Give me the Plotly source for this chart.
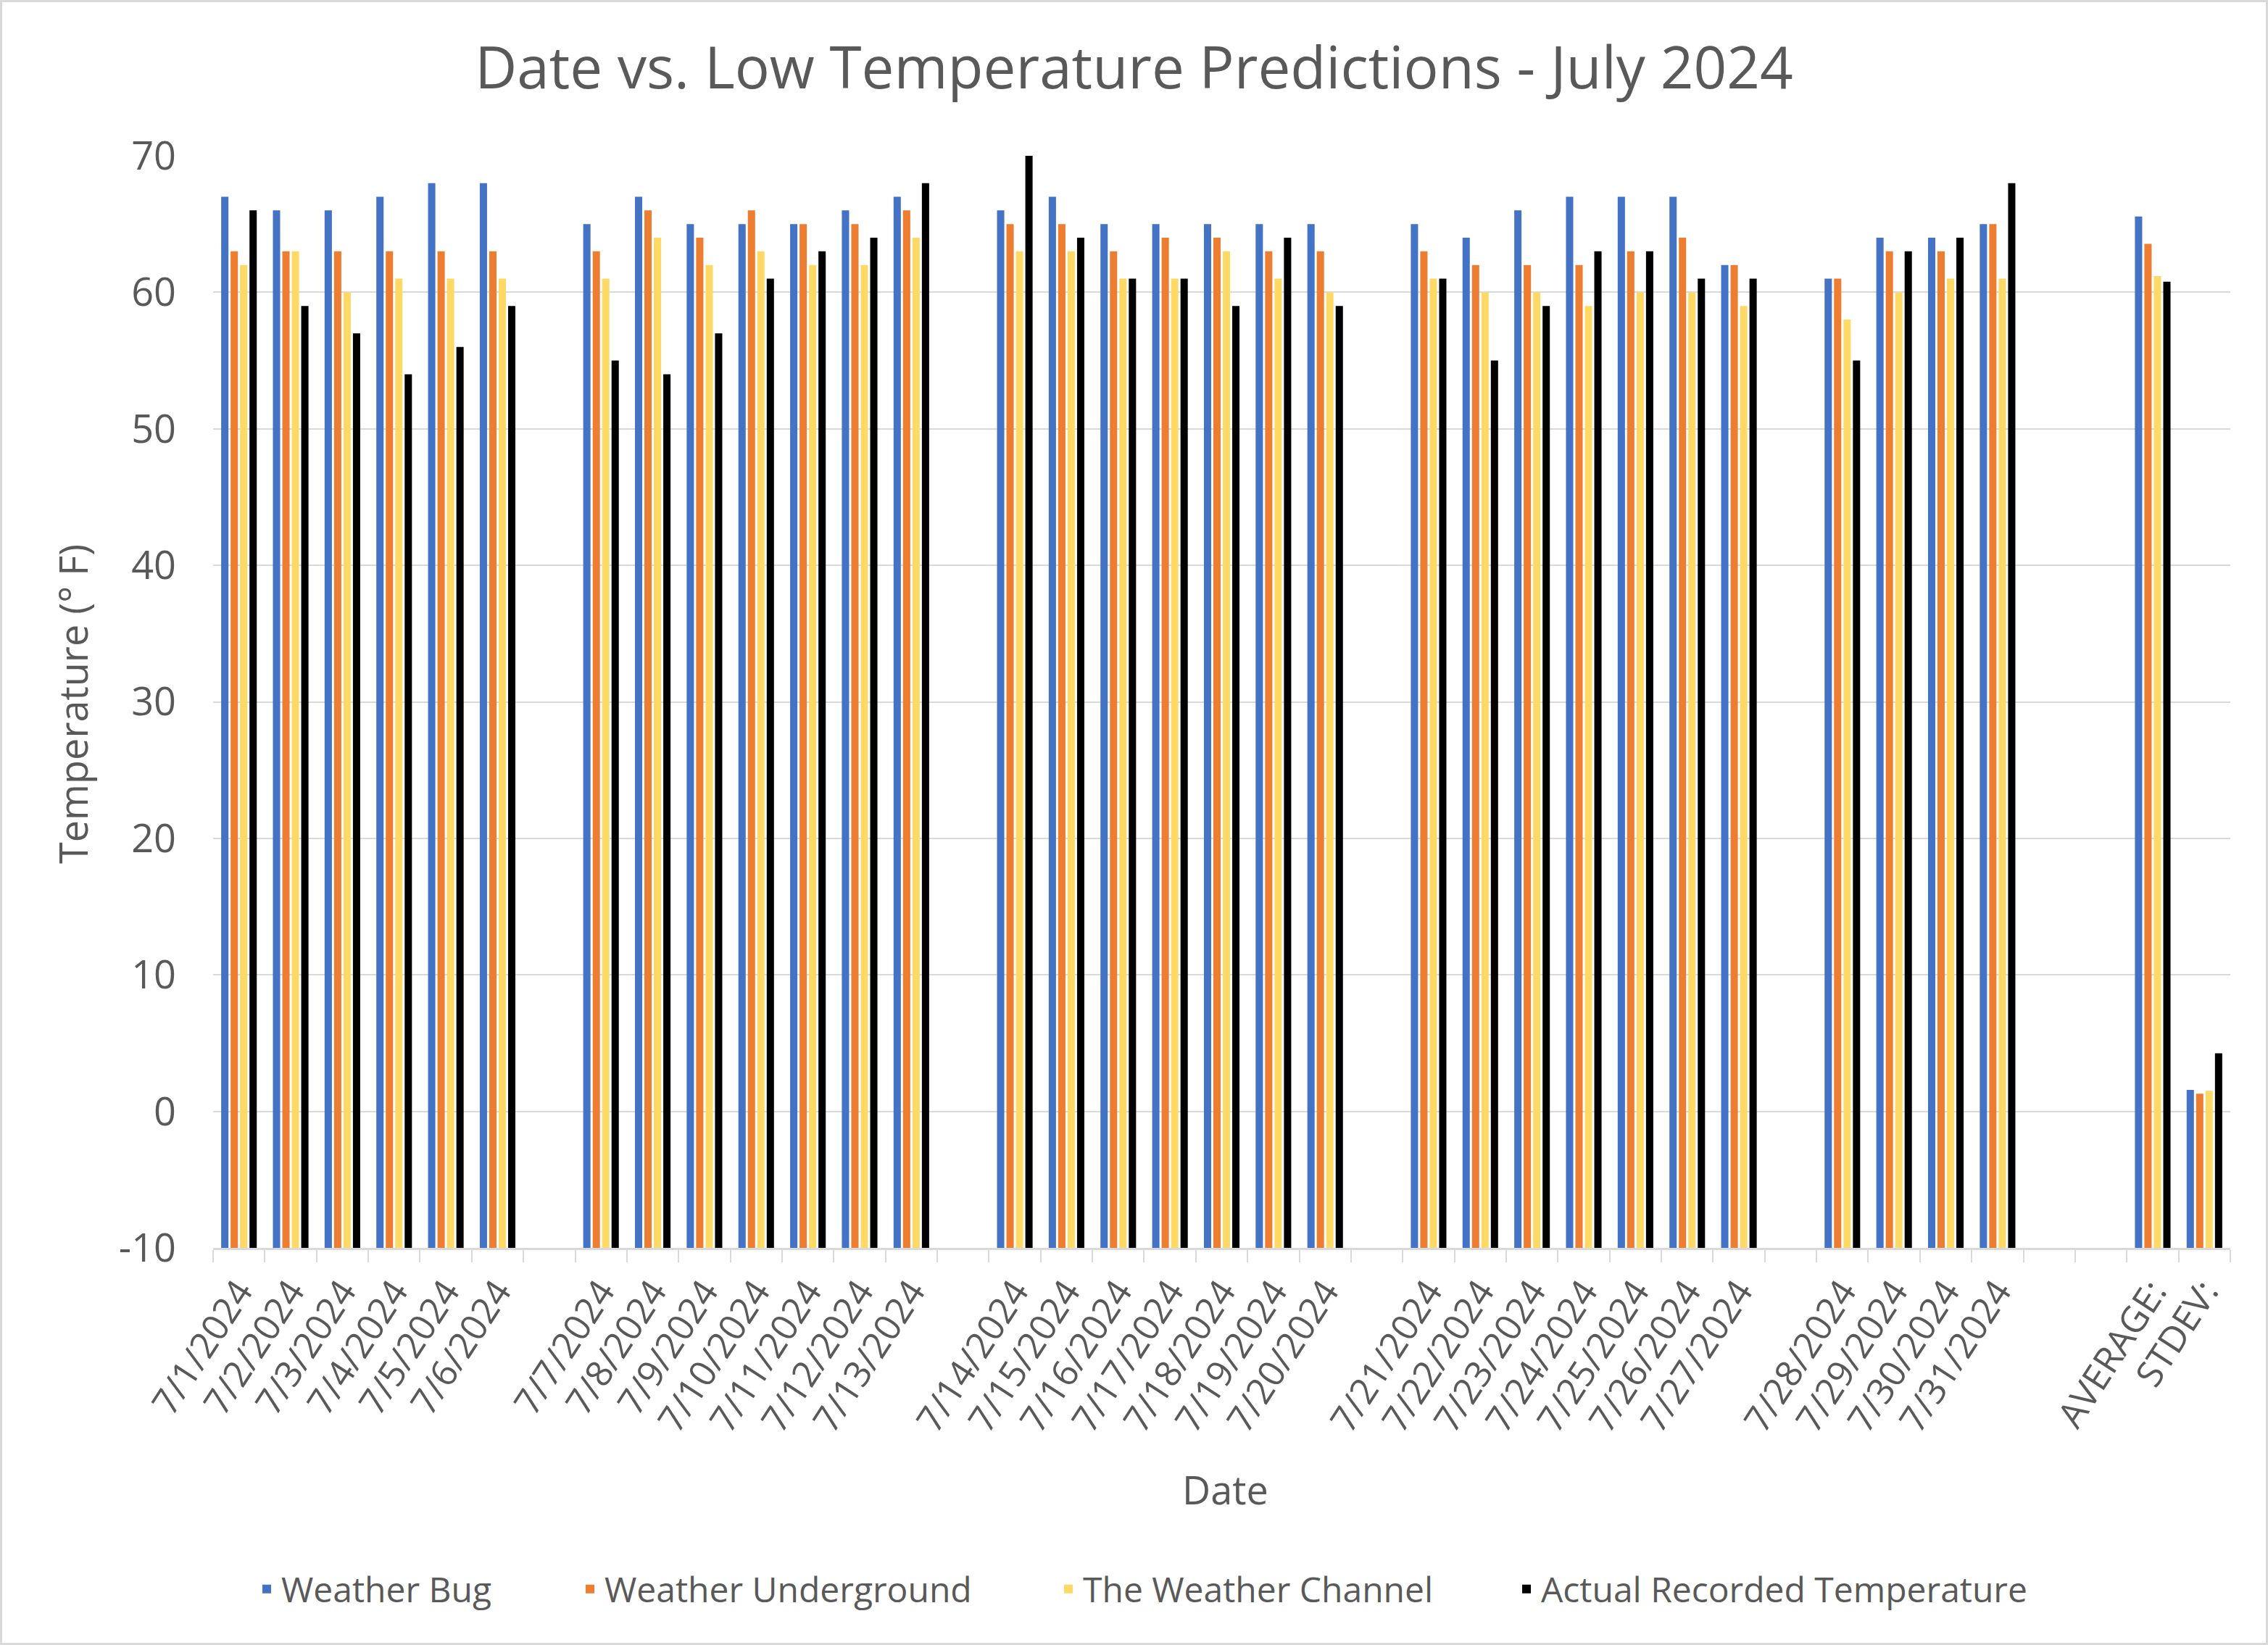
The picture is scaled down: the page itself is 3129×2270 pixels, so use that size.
import plotly.graph_objects as go

# ---------------- data ----------------
dates_w1 = ["7/1/2024", "7/2/2024", "7/3/2024", "7/4/2024", "7/5/2024", "7/6/2024"]
dates_w2 = ["7/7/2024", "7/8/2024", "7/9/2024", "7/10/2024", "7/11/2024", "7/12/2024", "7/13/2024"]
dates_w3 = ["7/14/2024", "7/15/2024", "7/16/2024", "7/17/2024", "7/18/2024", "7/19/2024", "7/20/2024"]
dates_w4 = ["7/21/2024", "7/22/2024", "7/23/2024", "7/24/2024", "7/25/2024", "7/26/2024", "7/27/2024"]
dates_w5 = ["7/28/2024", "7/29/2024", "7/30/2024", "7/31/2024"]
summary_labels = ["AVERAGE:", "STDEV:"]

weather_bug = [67, 66, 66, 67, 68, 68,
               65, 67, 65, 65, 65, 66, 67,
               66, 67, 65, 65, 65, 65, 65,
               65, 64, 66, 67, 67, 67, 62,
               61, 64, 64, 65]
weather_underground = [63, 63, 63, 63, 63, 63,
                       63, 66, 64, 66, 65, 65, 66,
                       65, 65, 63, 64, 64, 63, 63,
                       63, 62, 62, 62, 63, 64, 62,
                       61, 63, 63, 65]
weather_channel = [62, 63, 60, 61, 61, 61,
                   61, 64, 62, 63, 62, 62, 64,
                   63, 63, 61, 61, 63, 61, 60,
                   61, 60, 60, 59, 60, 60, 59,
                   58, 60, 61, 61]
actual_temp = [66, 59, 57, 54, 56, 59,
               55, 54, 57, 61, 63, 64, 68,
               70, 64, 61, 61, 59, 64, 59,
               61, 55, 59, 63, 63, 61, 61,
               55, 63, 64, 68]

# AVERAGE / STDEV values
summary_weather_bug = [65.55, 1.57]
summary_weather_underground = [63.55, 1.29]
summary_weather_channel = [61.19, 1.50]
summary_actual = [60.77, 4.25]

series_names = ["Weather Bug", "Weather Underground", "The Weather Channel",
                "Actual Recorded Temperature"]
y_ticks = [-10, 0, 10, 20, 30, 40, 50, 60, 70]
y_min, y_max = -10, 70

# ---------------- styling ----------------
colors = ["#4472C4", "#ED7D31", "#FFD966", "#000000"]
TEXT = "#595959"
GRID = "#D9D9D9"
FONT = "Open Sans"

W, H = 3129, 2270
ML, MR, MT, MB = 294, 52, 215, 548
PW, PH = W - ML - MR, H - MT - MB


def px_x(x):
    return (x - ML) / PW


def px_y(y):
    return (H - MB - y) / PH


# category order with blank spacer slots between weeks
weeks = [dates_w1, dates_w2, dates_w3, dates_w4, dates_w5]
gap_counts = [1, 1, 1, 1, 2]
cat_order, tick_text = [], []
gid = 0
for wk, g in zip(weeks, gap_counts):
    cat_order += wk
    tick_text += wk
    for _ in range(g):
        gid += 1
        cat_order.append(f"gap{gid}")
        tick_text.append("")
cat_order += summary_labels
tick_text += summary_labels

all_dates = [d for wk in weeks for d in wk]
x_vals = all_dates + summary_labels
series_vals = [
    weather_bug + summary_weather_bug,
    weather_underground + summary_weather_underground,
    weather_channel + summary_weather_channel,
    actual_temp + summary_actual,
]

fig = go.Figure()
legend_ids = ["legend", "legend2", "legend3", "legend4"]
for name, vals, col, lg in zip(series_names, series_vals, colors, legend_ids):
    # bars rise from the bottom of the value axis (-10), as in the original chart
    fig.add_trace(go.Bar(x=x_vals, y=[v - y_min for v in vals], base=y_min,
                         customdata=vals, hovertemplate="%{x}: %{customdata}<extra>" + name + "</extra>",
                         name=name, marker_color=col, marker_line_width=0, legend=lg))

legend_text_starts = [393, 839, 1499, 2131]
legend_common = dict(orientation="h", xref="container", yref="container",
                     xanchor="left", yanchor="middle", y=1 - 2193 / H,
                     font=dict(family=FONT, size=48, color=TEXT),
                     bgcolor="rgba(0,0,0,0)", borderwidth=0)
legend_layout = {}
for lg, xs in zip(legend_ids, legend_text_starts):
    legend_layout[lg] = dict(x=(xs - 45) / W, **legend_common)

fig.update_layout(
    width=W, height=H,
    margin=dict(l=ML, r=MR, t=MT, b=MB, autoexpand=False),
    paper_bgcolor="white", plot_bgcolor="white",
    font=dict(family=FONT, color=TEXT),
    title=dict(text="Date vs. Low Temperature Predictions - July 2024",
               font=dict(family=FONT, size=80, color=TEXT),
               x=0.5, xref="container", xanchor="center",
               y=1 - 94 / H, yref="container", yanchor="middle"),
    barmode="group", bargap=0.27, bargroupgap=0.23,
    showlegend=True,
    **legend_layout,
)

fig.update_xaxes(
    type="category", categoryorder="array", categoryarray=cat_order,
    tickmode="array", tickvals=cat_order, ticktext=tick_text,
    range=[-0.5, len(cat_order) - 0.5],
    tickangle=-57, tickfont=dict(family=FONT, size=50, color=TEXT),
    showgrid=False, showline=True, linecolor=GRID, linewidth=3,
    ticks="outside", tickson="boundaries", ticklen=17, tickwidth=2, tickcolor=GRID,
    ticklabelstandoff=8, automargin=False,
)
fig.update_yaxes(
    range=[y_min, y_max], tickmode="array", tickvals=y_ticks,
    ticktext=[str(v) for v in y_ticks],
    tickfont=dict(family=FONT, size=54, color=TEXT),
    showgrid=True, gridcolor=GRID, gridwidth=2, zeroline=False,
    showline=False, ticks="", ticklabelstandoff=50, automargin=False,
)

# axis titles
fig.add_annotation(text="Date", xref="paper", yref="paper",
                   x=px_x(1690), y=px_y(2055), showarrow=False,
                   xanchor="center", yanchor="middle",
                   font=dict(family=FONT, size=54, color=TEXT))
fig.add_annotation(text="Temperature (° F)", xref="paper", yref="paper",
                   x=px_x(100), y=px_y(972), showarrow=False, textangle=-90,
                   xanchor="center", yanchor="middle",
                   font=dict(family=FONT, size=54, color=TEXT))

# chart-area border
fig.add_shape(type="rect", xref="paper", yref="paper",
              x0=px_x(1.5), x1=px_x(W - 1.5), y0=px_y(H - 1.5), y1=px_y(1.5),
              line=dict(color=GRID, width=3), fillcolor="rgba(0,0,0,0)", layer="below")

fig.write_html("out.html", config={"displayModeBar": False},
               post_script="document.body.style.margin='0';")
